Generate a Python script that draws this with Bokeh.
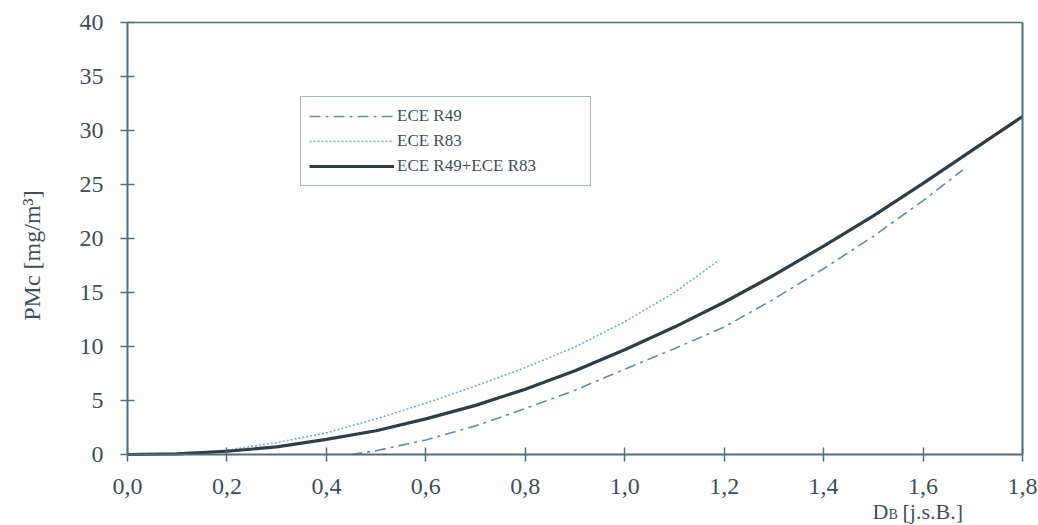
import math
from bokeh.plotting import figure
from bokeh.models import (Range1d, FixedTicker, Legend, LegendItem, Label, LinearAxis,
                          CustomJSTickFormatter)
from bokeh.embed import file_html
from bokeh.resources import INLINE

# ---- data (corrected for the scan's slight tilt) ----
r49_x = [0.45, 0.5, 0.6, 0.7, 0.8, 0.9, 1.0, 1.1, 1.2, 1.3, 1.4, 1.5, 1.6, 1.68]
r49_y = [0.0, 0.35, 1.35, 2.65, 4.25, 5.95, 7.9, 9.8, 11.8, 14.4, 17.2, 20.2, 23.5, 26.35]

r83_x = [0.0, 0.1, 0.2, 0.3, 0.4, 0.5, 0.6, 0.7, 0.8, 0.9, 1.0, 1.1, 1.19]
r83_y = [0.0, 0.1, 0.4, 1.1, 2.0, 3.3, 4.75, 6.35, 8.05, 9.95, 12.3, 15.0, 18.0]

both_x = [0.0, 0.1, 0.2, 0.3, 0.4, 0.5, 0.6, 0.7, 0.8, 0.9, 1.0, 1.1, 1.2, 1.3, 1.4, 1.5, 1.6, 1.7, 1.8]
both_y = [0.0, 0.05, 0.3, 0.7, 1.4, 2.2, 3.3, 4.55, 6.05, 7.75, 9.7, 11.8, 14.1, 16.6, 19.3, 22.1, 25.1, 28.2, 31.3]

x_ticks = [0.0, 0.2, 0.4, 0.6, 0.8, 1.0, 1.2, 1.4, 1.6, 1.8]
y_ticks = [0, 5, 10, 15, 20, 25, 30, 35, 40]

names = ["ECE R49", "ECE R83", "ECE R49+ECE R83"]
y_title = "PMc [mg/m\u00b3]"
x_title = ["D", "B", "[j.s.B.]"]

AX = "#4f6f7c"
TXT = "#3e4f5a"
FONT = "Liberation Serif"

W, H = 1038, 525
# plot box in pixels (left, right, top, bottom)
PL, PR, PT, PB = 127, 1022, 22, 454
x0, x1 = x_ticks[0], x_ticks[-1]
y0, y1 = y_ticks[0], y_ticks[-1]
sx = (PR - PL) / (x1 - x0)
sy = (PB - PT) / (y1 - y0)

p = figure(width=W, height=H, output_backend="svg", toolbar_location=None,
           x_range=Range1d(x0 - PL / sx, x0 + (W - PL) / sx),
           y_range=Range1d(y0 - (H - PB) / sy, y0 + PB / sy),
           x_axis_location=None, y_axis_location=None,
           min_border=0, background_fill_color="white", border_fill_color="white")
p.grid.visible = False
p.outline_line_color = None


def style(ax, labels=True):
    ax.axis_line_color = AX
    ax.axis_line_width = 2
    ax.minor_tick_line_color = None
    if labels:
        ax.major_tick_line_color = AX
        ax.major_tick_line_width = 1.5
        ax.major_tick_in = 7
        ax.major_tick_out = 7
        ax.major_label_text_font = FONT
        ax.major_label_text_font_size = "24px"
        ax.major_label_text_color = TXT
    else:
        ax.major_tick_line_color = None
        ax.major_label_text_font_size = "0px"


xa = LinearAxis(fixed_location=y0, bounds=(x0, x1), ticker=FixedTicker(ticks=x_ticks),
                formatter=CustomJSTickFormatter(code="return tick.toFixed(1).replace('.', ',');"))
style(xa)
xa.major_label_standoff = 17
ya = LinearAxis(fixed_location=x0, bounds=(y0, y1), ticker=FixedTicker(ticks=y_ticks))
style(ya)
ya.major_label_standoff = 17
ta = LinearAxis(fixed_location=y1, bounds=(x0, x1), ticker=FixedTicker(ticks=[]))
style(ta, labels=False)
ta.axis_line_width = 1.6
ra = LinearAxis(fixed_location=x1, bounds=(y0, y1), ticker=FixedTicker(ticks=[]))
style(ra, labels=False)
p.add_layout(xa, "below")
p.add_layout(ya, "left")
p.add_layout(ta, "above")
p.add_layout(ra, "right")

r1 = p.line(r49_x, r49_y, line_color="#5f8fa5", line_width=1.6, line_dash="11 5 3 5")
r2 = p.line(r83_x, r83_y, line_color="#72aecb", line_width=1.6, line_dash="2 2")
r3 = p.line(both_x, both_y, line_color="#2f3d47", line_width=3.2)

legend = Legend(items=[LegendItem(label=names[0], renderers=[r1]),
                       LegendItem(label=names[1], renderers=[r2]),
                       LegendItem(label=names[2], renderers=[r3])],
                location=(300, H - 186), glyph_width=85, glyph_height=22,
                label_height=22, label_width=185, label_standoff=3,
                spacing=3, padding=8, margin=0,
                label_text_font=FONT, label_text_font_size="17px", label_text_color=TXT,
                border_line_color=AX, border_line_width=1.5,
                background_fill_color="white", background_fill_alpha=1.0)
p.add_layout(legend, "center")


def dx(px):
    return x0 + (px - PL) / sx


def dy(py):
    return y0 + (PB - py) / sy


p.add_layout(Label(x=dx(31), y=dy(255), text=y_title, angle=math.pi / 2,
                   text_align="center", text_baseline="middle",
                   text_font=FONT, text_font_size="24px", text_color=TXT))
p.add_layout(Label(x=dx(872), y=dy(511), text=x_title[0], text_baseline="alphabetic",
                   text_font=FONT, text_font_size="22px", text_color=TXT))
p.add_layout(Label(x=dx(888), y=dy(514), text=x_title[1], text_baseline="alphabetic",
                   text_font=FONT, text_font_size="14px", text_color=TXT))
p.add_layout(Label(x=dx(902), y=dy(511), text=x_title[2], text_baseline="alphabetic",
                   text_font=FONT, text_font_size="22px", text_color=TXT))

open("out.html", "w").write(file_html(p, INLINE))
